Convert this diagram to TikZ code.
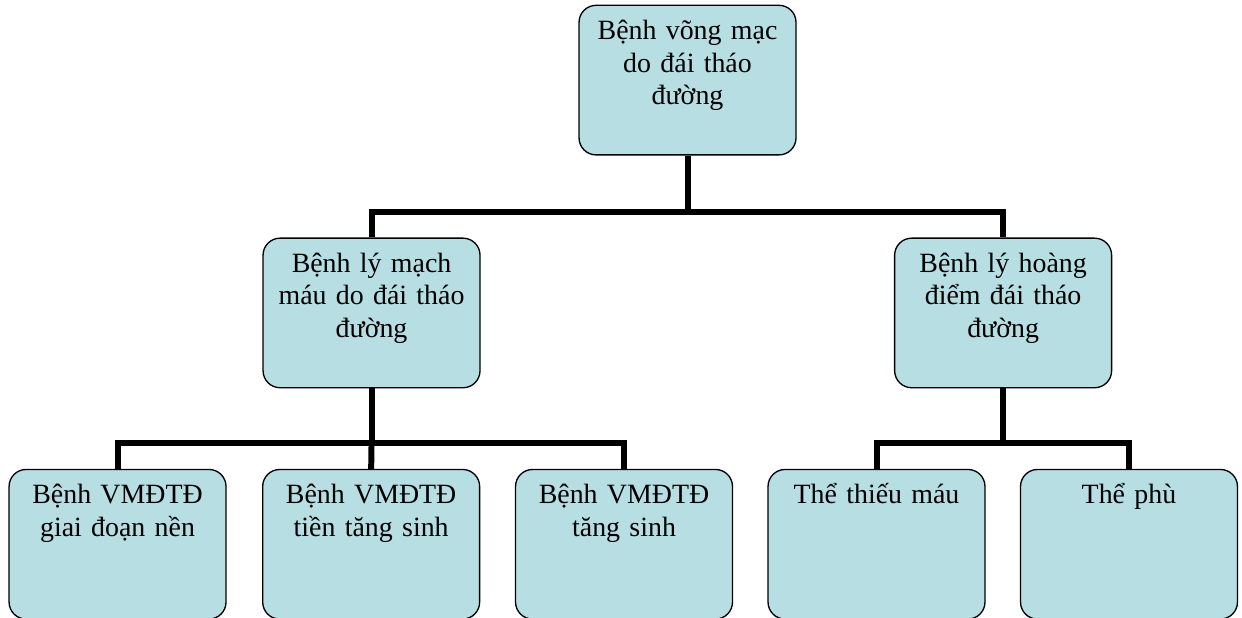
\documentclass[tikz,border=0pt]{standalone}
\usepackage{fontspec}
\setmainfont{Liberation Serif}
\usepackage{xcolor}
\usepackage{tikz}
\usetikzlibrary{positioning}
\definecolor{boxfill}{HTML}{B7DEE3}
\tikzset{box/.style={rectangle,draw,line width=1pt,fill=boxfill,rounded corners=0.45cm,minimum width=5.74cm,text width=5.3cm,align=center,inner xsep=4pt,inner ysep=6pt,text height=19.5pt,text depth=81.1pt,font=\fontsize{21}{24.75}\selectfont}}
\tikzset{link/.style={line width=4.5pt,line join=miter}}

\begin{document}
\begin{tikzpicture}
    \useasboundingbox (0,0) rectangle (32.86,16.35);
    \node[box] (root) at (18.19,14.23) {Bệnh võng mạc\\do đái tháo\\đường};
    \node[box] (vasc) at (9.83,8.07) {Bệnh lý mạch\\máu do đái tháo\\đường};
    \node[box] (mac) at (26.54,8.07) {Bệnh lý hoàng\\điểm đái tháo\\đường};
    \node[box] (bg) at (3.11,1.95) {Bệnh VMĐTĐ\\giai đoạn nền};
    \node[box] (pre) at (9.82,1.95) {Bệnh VMĐTĐ\\tiền tăng sinh};
    \node[box] (pro) at (16.51,1.95) {Bệnh VMĐTĐ\\tăng sinh};
    \node[box] (isch) at (23.19,1.95) {Thể thiếu máu};
    \node[box] (edema) at (29.87,1.95) {Thể phù};

    \coordinate (j1) at (18.19,10.74);
    \coordinate (j2) at (9.83,4.63);
    \coordinate (j3) at (26.54,4.63);

    \draw [link] (root.south) -- (j1) -| (vasc.north);
    \draw [link] (j1) -| (mac.north);
    \draw [link] (vasc.south) -- (j2) -| (bg.north);
    \draw [link] (j2) -- (pre.north);
    \draw [link] (j2) -| (pro.north);
    \draw [link] (mac.south) -- (j3) -| (isch.north);
    \draw [link] (j3) -| (edema.north);
\end{tikzpicture}
\end{document}
